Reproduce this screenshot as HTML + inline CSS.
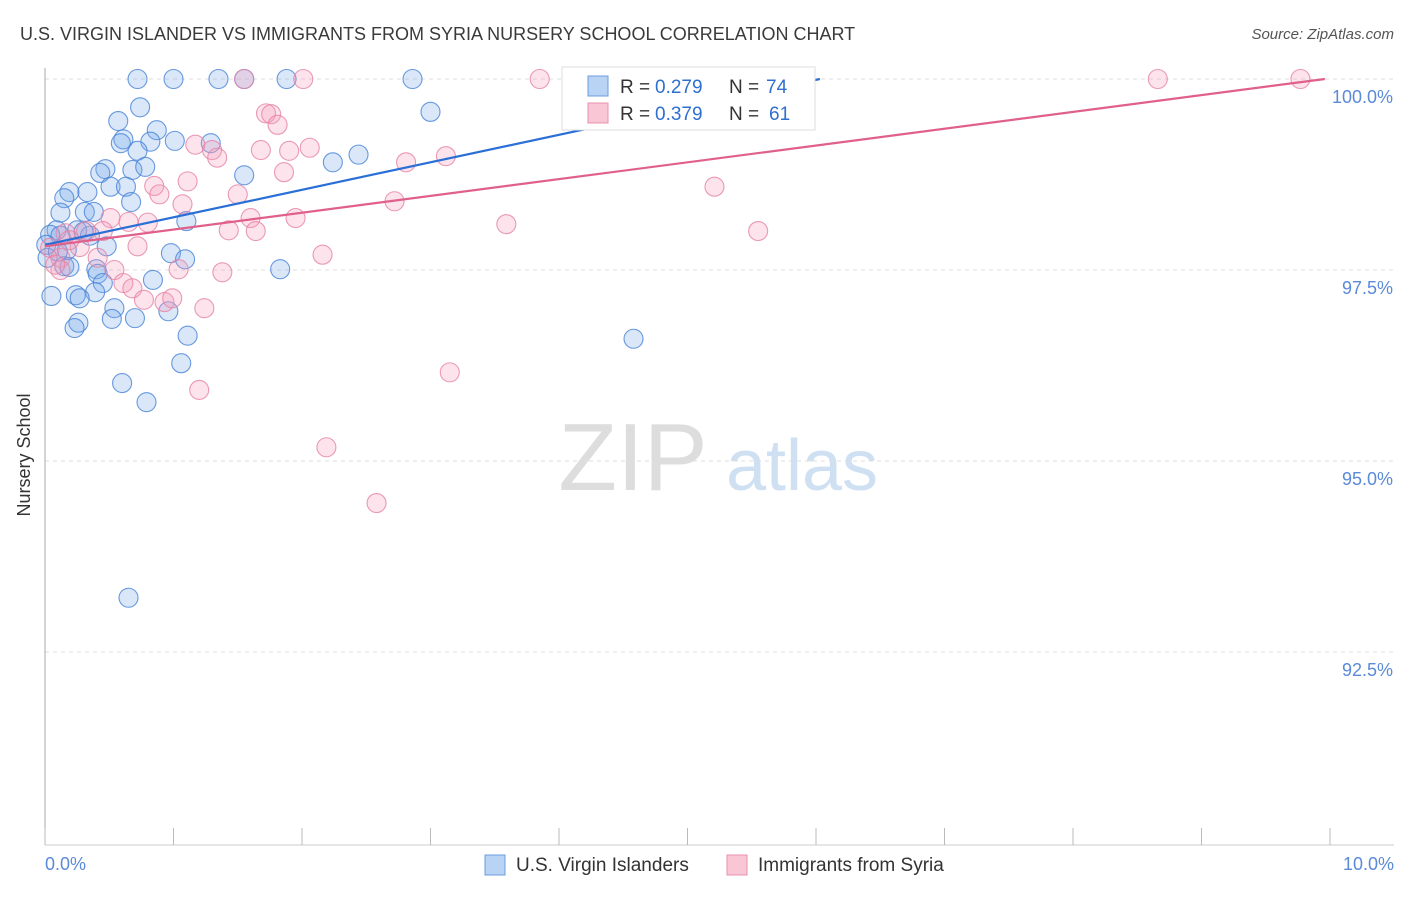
<!DOCTYPE html>
<html><head><meta charset="utf-8"><style>
body{margin:0;background:#fff;font-family:"Liberation Sans",sans-serif;}
svg text{font-family:"Liberation Sans",sans-serif;}
</style></head><body>
<svg id="chart" width="1406" height="892">
<text x="20" y="40" font-size="18" fill="#3a3a3a">U.S. VIRGIN ISLANDER VS IMMIGRANTS FROM SYRIA NURSERY SCHOOL CORRELATION CHART</text>
<text x="1394" y="39" font-size="15" fill="#555" text-anchor="end" font-style="italic">Source: ZipAtlas.com</text>
<text x="30" y="455" font-size="18" fill="#333" text-anchor="middle" transform="rotate(-90 30 455)">Nursery School</text>
<g><text x="633" y="490" font-size="96" fill="#ddd" text-anchor="middle" font-family="Liberation Serif">ZIP</text><text x="802" y="490" font-size="72" fill="#cfe0f3" text-anchor="middle">atlas</text></g>
<g id="grid"></g><g id="marks"></g>
<g>
<rect x="562" y="67" width="253" height="63" fill="#fff" stroke="#ddd"/>
<rect x="588" y="76" width="20" height="20" fill="#b9d3f5" stroke="#6b9de0"/>
<text x="620" y="93" font-size="19" fill="#333">R =</text><text x="655" y="93" font-size="19" fill="#2f6fd0">0.279</text>
<text x="729" y="93" font-size="19" fill="#333">N =</text><text x="766" y="93" font-size="19" fill="#2f6fd0">74</text>
<rect x="588" y="103" width="20" height="20" fill="#f9c6d6" stroke="#e890ac"/>
<text x="620" y="120" font-size="19" fill="#333">R =</text><text x="655" y="120" font-size="19" fill="#2f6fd0">0.379</text>
<text x="729" y="120" font-size="19" fill="#333">N =</text><text x="769" y="120" font-size="19" fill="#2f6fd0">61</text>
</g>
<g>
<rect x="485" y="855" width="20" height="20" fill="#b9d3f5" stroke="#6b9de0"/>
<text x="516" y="871" font-size="19" fill="#333">U.S. Virgin Islanders</text>
<rect x="727" y="855" width="20" height="20" fill="#f9c6d6" stroke="#e890ac"/>
<text x="758" y="871" font-size="19" fill="#333">Immigrants from Syria</text>
</g>
</svg>
<script>
const yTicks=[100,97.5,95,92.5];
const yTickLabels=["100.0%","97.5%","95.0%","92.5%"];
const xEndLabels=["0.0%","10.0%"];
const blueX=[0.72,1.00,1.35,1.55,1.88,2.86,0.74,0.57,3.00,0.87,0.61,0.59,0.82,1.01,1.29,0.72,0.47,0.43,0.68,0.78,1.55,2.24,2.44,0.19,0.33,0.51,0.63,0.15,0.67,0.12,0.31,0.38,1.10,0.09,0.04,0.12,0.25,0.35,0.30,0.01,0.48,0.98,1.09,0.02,0.15,0.19,0.40,0.41,1.83,0.84,0.45,0.05,0.24,0.39,0.27,0.54,0.96,0.52,0.70,0.26,0.23,1.11,4.58,1.06,0.60,0.79,0.65,0.17,0.10];
const blueY=[100,100,100,100,100,100,99.63,99.45,99.57,99.33,99.21,99.16,99.18,99.19,99.16,99.06,98.82,98.77,98.81,98.85,98.74,98.91,99.01,98.52,98.52,98.59,98.59,98.44,98.39,98.25,98.26,98.26,98.14,98.02,97.96,97.95,98.02,97.95,98.00,97.83,97.81,97.72,97.64,97.66,97.55,97.54,97.51,97.45,97.51,97.37,97.33,97.16,97.17,97.21,97.13,97.00,96.96,96.86,96.87,96.81,96.74,96.64,96.60,96.28,96.02,95.77,93.21,97.76,97.74];
const pinkX=[1.55,2.01,3.85,5.82,8.66,9.77,1.72,1.76,1.81,1.17,1.30,1.34,1.68,1.90,2.06,2.81,3.12,1.11,0.85,0.89,1.50,1.86,1.07,2.72,5.21,3.59,5.55,0.51,0.65,0.80,1.60,1.95,1.43,1.64,0.45,0.72,2.16,0.16,0.32,0.04,0.12,0.41,0.54,1.04,1.38,0.12,0.61,0.68,0.77,0.93,0.99,1.24,3.15,1.20,2.19,2.58,0.27,0.08,0.19];
const pinkY=[100,100,100,100,100,100,99.55,99.54,99.40,99.14,99.07,98.97,99.07,99.06,99.10,98.91,98.99,98.66,98.60,98.49,98.49,98.78,98.36,98.40,98.59,98.10,98.01,98.18,98.13,98.12,98.18,98.18,98.02,98.01,98.01,97.81,97.70,97.98,98.01,97.79,97.66,97.66,97.50,97.51,97.47,97.50,97.33,97.26,97.11,97.08,97.13,97.00,96.16,95.93,95.18,94.45,97.80,97.57,97.89];
const blueTrend=[0,97.83,6.03,100];
const pinkTrend=[0,97.81,9.96,100];
const NS="http://www.w3.org/2000/svg";
const sx=v=>45+v*128.5, sy=v=>79+(100-v)*76.4;
function mk(t,a,p){const e=document.createElementNS(NS,t);for(const k in a)e.setAttribute(k,a[k]);p.appendChild(e);return e;}
const grid=document.getElementById('grid'), marks=document.getElementById('marks');
yTicks.forEach((v,i)=>{
 const l=mk('line',{x1:45,x2:1394,y1:sy(v),y2:sy(v),stroke:'#ddd','stroke-dasharray':'4,4'},grid);
 
 
 const t=mk('text',{x:1393,y:sy(v)+24,'font-size':18,fill:'#5a8ad8','text-anchor':'end'},grid);
 t.textContent=yTickLabels[i];
 
 
});
const ax=mk('line',{x1:45,x2:45,y1:68,y2:845,stroke:'#aaa'},grid);


const bx=mk('line',{x1:45,x2:1394,y1:845,y2:845,stroke:'#ccc'},grid);


for(let i=0;i<=10;i++){
 const tk=mk('line',{x1:sx(i),x2:sx(i),y1:828,y2:845,stroke:'#bbb'},grid);
 
 
}
[[0,45,'start'],[10,1394,'end']].forEach(([v,x,a],i)=>{
 const t=mk('text',{x:x,y:870,'font-size':18,fill:'#5a8ad8','text-anchor':a},grid);
 t.textContent=xEndLabels[i];
 
 
});
function pts(X,Y,fill,stroke,name){X.forEach((x,i)=>{
 const c=mk('circle',{cx:sx(x),cy:sy(Y[i]),r:9.5,fill:fill,stroke:stroke,'stroke-width':1.1},marks);
 
 
});}
pts(blueX,blueY,'rgba(120,170,235,0.28)','rgba(70,130,215,0.8)','point-virgin-islanders');
pts(pinkX,pinkY,'rgba(245,155,185,0.28)','rgba(230,130,165,0.8)','point-syria');
const tb=mk('line',{x1:sx(blueTrend[0]),y1:sy(blueTrend[1]),x2:sx(blueTrend[2]),y2:sy(blueTrend[3]),stroke:'#2a6fd6','stroke-width':2.2},marks);


const tp=mk('line',{x1:sx(pinkTrend[0]),y1:sy(pinkTrend[1]),x2:sx(pinkTrend[2]),y2:sy(pinkTrend[3]),stroke:'#e0608a','stroke-width':2.2},marks);


</script>
</body></html>
